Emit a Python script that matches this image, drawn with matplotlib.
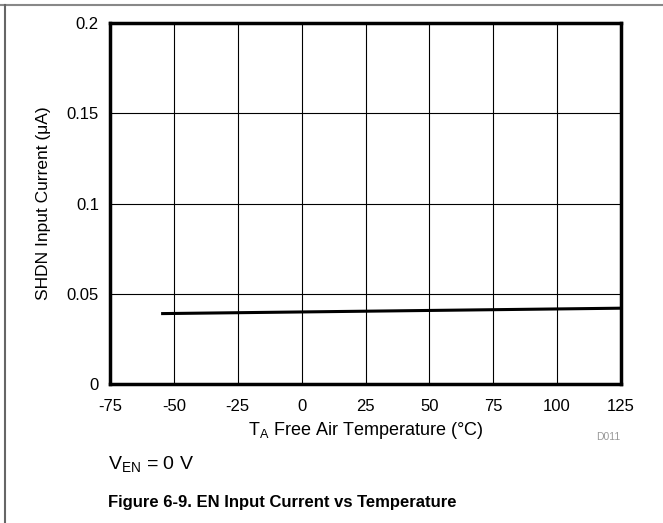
import matplotlib.pyplot as plt
from matplotlib.lines import Line2D

plt.rcParams['font.family'] = ['Liberation Sans', 'DejaVu Sans']
plt.rcParams['axes.unicode_minus'] = False

# EN input current vs ambient temperature
temp_c = [-55, 125]
current_ua = [0.039, 0.042]

x_ticks = [-75, -50, -25, 0, 25, 50, 75, 100, 125]
y_ticks = [0, 0.05, 0.1, 0.15, 0.2]
y_tick_labels = ['0', '0.05', '0.1', '0.15', '0.2']

fig = plt.figure(figsize=(6.63, 5.23), dpi=100)
ax = fig.add_axes([110 / 663, 1 - 384 / 523, 511 / 663, 361 / 523])

ax.plot(temp_c, current_ua, color='black', lw=2.2, solid_capstyle='butt')

ax.set_xlim(-75, 125)
ax.set_ylim(0, 0.2)
ax.set_xticks(x_ticks)
ax.set_yticks(y_ticks)
ax.set_yticklabels(y_tick_labels)
ax.tick_params(length=0, labelsize=12)
ax.tick_params(axis='x', pad=11)
ax.tick_params(axis='y', pad=8)
ax.grid(True, color='black', lw=0.8)
for s in ax.spines.values():
    s.set_linewidth(2.5)

ax.set_ylabel('SHDN Input Current (\u03bcA)', fontsize=12.5, labelpad=11)
ax.set_xlabel('T$_\\mathregular{A}$ Free Air Temperature (\u00b0C)', fontsize=13, labelpad=4)

fig.text(608 / 663, 1 - 437 / 523, 'D011', fontsize=7.5, color='#999999', ha='center', va='center')
fig.text(108 / 663, 1 - 465 / 523, 'V$_\\mathregular{EN}$ = 0 V', fontsize=14, ha='left', va='center')
fig.text(108 / 663, 1 - 502 / 523, 'Figure 6-9. EN Input Current vs Temperature', fontsize=12,
         fontweight='bold', ha='left', va='center')

# page frame lines
fig.add_artist(Line2D([0, 1], [1 - 5 / 523] * 2, color='#888888', lw=1.5, transform=fig.transFigure))
fig.add_artist(Line2D([4.5 / 663] * 2, [0, 1 - 5 / 523], color='#666666', lw=1.5, transform=fig.transFigure))

fig.savefig('out.png', dpi=100)
